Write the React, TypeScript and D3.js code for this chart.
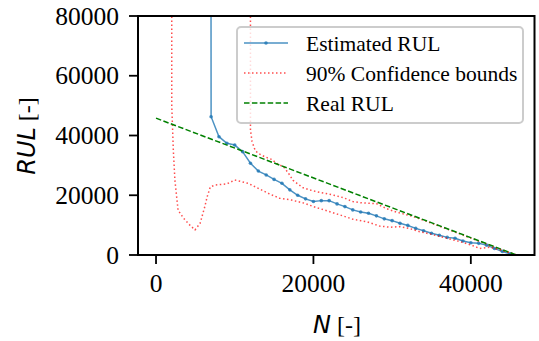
import React from 'react';
import * as d3 from 'd3';

// Estimated RUL (blue, with markers)
const estN = [6000, 7000, 8000, 9000, 10000, 11000, 12000, 13000, 14000, 15000, 16000, 17000, 18000, 19000, 20000,
  21000, 22000, 23000, 24000, 25000, 26000, 27000, 28000, 29000, 30000, 31000, 32000, 33000, 34000, 35000,
  36000, 37000, 38000, 39000, 40000, 41000, 42000, 43000, 44000, 45000];
const estRUL = [3000000, 46300, 39600, 37400, 36800, 34600, 30700, 28100, 26800, 25300, 24000, 21800, 20000, 18800, 17900,
  18200, 18200, 17100, 16200, 15100, 14400, 14000, 13100, 12100, 11500, 10600, 9900, 8900, 8100, 7300,
  6600, 5900, 5600, 4700, 4100, 3900, 3300, 2200, 1200, 400];

// 90% confidence bounds
const lowN = [1950, 2000, 2200, 2400, 2800, 3500, 4300, 4950, 5600, 6200, 6500, 6900, 7500, 9000, 10000, 11700,
  13000, 14300, 15700, 17200, 18900, 20000, 21700, 23400, 25100, 26800, 28400, 29700, 31000, 32300, 33500,
  34400, 36500, 38600, 40100, 41100, 42400, 43500, 44500, 45400, 45800];
const lowRUL = [3000000, 50000, 35000, 25000, 15000, 12300, 10000, 8400, 10600, 16200, 19500, 22800, 23400, 23800, 25100, 24000,
  22300, 20600, 19000, 18400, 17300, 16200, 14800, 13400, 11900, 11100, 9700, 9300, 9500, 8800, 7800,
  7300, 5900, 4500, 3300, 2200, 2600, 1900, 1100, 300, 0];

const upN = [11900, 12000, 12200, 12600, 13000, 13800, 14700, 15300, 16200, 16800, 17400, 18000, 18700, 19500,
  20400, 21600, 22600, 23800, 25000, 26000, 27000, 28000, 28700, 29500, 30500, 31500, 32500, 34000, 36000,
  38000, 40000, 42000, 44000, 45800];
const upRUL = [3000000, 41800, 38000, 35000, 34000, 32900, 32000, 30700, 29500, 27500, 25000, 23800, 22500, 21800,
  21200, 20600, 20000, 19200, 17900, 17500, 17300, 17200, 16300, 15300, 14400, 13700, 13000, 11650, 9650,
  7650, 5650, 3650, 1650, 0];

// Real RUL
const realN = [0, 45800];
const realRUL = [45800, 0];

const xTicks = [0, 20000, 40000];
const yTicks = [0, 20000, 40000, 60000, 80000];
const legendLabels = ['Estimated RUL', '90% Confidence bounds', 'Real RUL'];

const serif = 'Liberation Serif';
const mathFont = 'DejaVu Sans';

const left = 138, right = 534.5, top = 16, bottom = 255;
const x = d3.scaleLinear().domain([-2290, 48090]).range([left, right]);
const y = d3.scaleLinear().domain([0, 80000]).range([bottom, top]);

const line = d3.line<[number, number]>()
  .x(d => x(d[0]))
  .y(d => y(d[1]));

const zip = (ns: number[], vs: number[]) => ns.map((n, i) => [n, vs[i]] as [number, number]);

export default function App() {
  const estPts = zip(estN, estRUL);
  const lowPts = zip(lowN, lowRUL);
  const upPts = zip(upN, upRUL);
  const realPts = zip(realN, realRUL);
  const rows = [43, 73, 103];

  return (
    <svg width="539" height="341"
      style={{ position: 'absolute', left: 0, top: 0, display: 'block', background: 'white' }}>
      <defs>
        <clipPath id="plotclip">
          <rect x={left} y={top} width={right - left} height={bottom - top} />
        </clipPath>
      </defs>

      <g clipPath="url(#plotclip)">
        <path d={line(estPts) || ''} fill="none" stroke="#1f77b4" strokeOpacity={0.8} strokeWidth={1.5} />
        {estPts.map((d, i) => (
          <circle key={i} cx={x(d[0])} cy={y(d[1])} r={1.8} fill="#1f77b4" fillOpacity={0.8} />
        ))}
        {[lowPts, upPts].map((pts, i) => (
          <path key={i} d={line(pts) || ''} fill="none" stroke="#ff0000" strokeOpacity={0.7}
            strokeWidth={1.5} strokeDasharray="1.5,2.5" />
        ))}
        <path d={line(realPts) || ''} fill="none" stroke="#008000" strokeWidth={1.5} strokeDasharray="5.5,2.4" />
      </g>

      <rect x={left} y={top} width={right - left} height={bottom - top} fill="none" stroke="black" strokeWidth={2} />

      {xTicks.map(t => (
        <g key={'x' + t}>
          <line x1={x(t)} x2={x(t)} y1={bottom} y2={bottom + 9} stroke="black" strokeWidth={1.8} />
          <text x={x(t)} y={bottom + 37} textAnchor="middle"
            style={{ fontFamily: serif, fontSize: '25.5px' }}>{t}</text>
        </g>
      ))}
      {yTicks.map(t => (
        <g key={'y' + t}>
          <line x1={left - 9} x2={left} y1={y(t)} y2={y(t)} stroke="black" strokeWidth={1.8} />
          <text x={left - 19} y={y(t)} dy="0.34em" textAnchor="end"
            style={{ fontFamily: serif, fontSize: '25.5px' }}>{t}</text>
        </g>
      ))}

      <text x={337} y={333} textAnchor="middle">
        <tspan style={{ fontFamily: mathFont, fontStyle: 'italic', fontSize: '24px' }}>N</tspan>
        <tspan style={{ fontFamily: serif, fontSize: '24px' }}> [-]</tspan>
      </text>
      <text transform="translate(35,136) rotate(-90)" textAnchor="middle">
        <tspan style={{ fontFamily: mathFont, fontStyle: 'italic', fontSize: '24px' }}>RUL</tspan>
        <tspan style={{ fontFamily: serif, fontSize: '24px' }}> [-]</tspan>
      </text>

      <rect x={237} y={27} width={286} height={96} rx={4} fill="white" fillOpacity={0.8}
        stroke="#cccccc" strokeWidth={2} />
      {legendLabels.map((label, i) => {
        const ly = rows[i];
        return (
          <g key={label}>
            {i === 0 && (
              <>
                <line x1={244} x2={288} y1={ly} y2={ly} stroke="#1f77b4" strokeOpacity={0.8} strokeWidth={1.5} />
                <circle cx={266} cy={ly} r={1.8} fill="#1f77b4" fillOpacity={0.8} />
              </>
            )}
            {i === 1 && (
              <line x1={244} x2={288} y1={ly} y2={ly} stroke="#ff0000" strokeOpacity={0.7}
                strokeWidth={1.5} strokeDasharray="1.5,2.5" />
            )}
            {i === 2 && (
              <line x1={244} x2={288} y1={ly} y2={ly} stroke="#008000" strokeWidth={1.5} strokeDasharray="5.5,2.4" />
            )}
            <text x={306} y={ly + 8} style={{ fontFamily: serif, fontSize: '21.5px' }}>{label}</text>
          </g>
        );
      })}
    </svg>
  );
}
